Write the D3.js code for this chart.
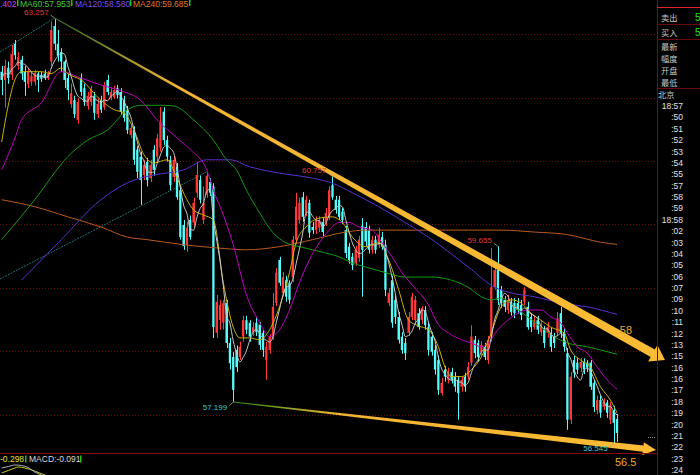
<!DOCTYPE html>
<html><head><meta charset="utf-8">
<script src="https://cdn.jsdelivr.net/npm/d3@7"></script>
<style>html,body{margin:0;padding:0;background:#000;overflow:hidden}</style>
</head><body><svg id="c" width="700" height="475"></svg>
<script>
// ---------- DATA ----------
const opens=[62.41,62.28,62.47,62.36,62.85,62.50,62.60,62.41,62.22,62.25,
62.25,62.38,62.36,62.38,62.31,62.57,63.13,62.85,62.72,62.57,
62.31,61.90,61.96,61.65,62.31,62.15,61.87,61.93,62.03,61.74,
61.96,61.85,62.28,61.99,62.01,62.15,62.09,61.96,61.81,61.41,
61.49,61.18,61.07,60.78,60.99,60.73,61.18,61.07,61.21,61.78,
61.33,61.02,60.75,60.91,60.54,59.99,59.68,60.07,60.03,60.50,
60.70,60.07,60.47,60.67,60.60,58.29,58.49,58.45,58.76,58.13,
57.91,58.02,57.91,58.23,58.49,58.45,58.29,58.45,58.42,58.29,
57.86,58.02,58.23,58.76,59.44,58.92,59.12,59.08,59.17,59.76,
60.07,60.43,60.18,60.34,59.96,59.91,59.95,60.04,60.03,60.12,
60.62,60.39,60.39,60.20,59.91,59.65,59.49,59.39,59.47,59.98,
59.96,59.91,59.60,59.76,59.68,59.80,59.68,58.76,59.12,58.81,
58.54,58.23,58.13,58.29,58.54,58.49,58.60,58.49,58.65,58.38,
58.23,58.02,57.86,57.34,57.71,57.55,57.67,57.60,57.55,57.44,
57.60,57.60,57.82,58.18,58.13,57.99,58.07,57.86,58.23,59.01,
59.28,58.97,58.81,58.65,58.78,58.76,58.76,58.73,58.78,58.70,
58.54,58.38,58.49,58.30,58.34,58.29,58.29,58.23,58.29,58.60,
58.29,57.97,56.92,57.86,57.82,57.74,57.83,57.82,57.82,57.50,
57.07,57.23,57.12,57.19,56.92,57.07,56.93];
const highs=[62.50,62.60,62.57,62.83,62.91,62.72,62.66,62.50,62.47,62.41,
62.44,62.41,62.41,62.44,62.42,63.20,63.257,63.07,62.78,62.60,
62.38,62.22,62.03,61.99,62.38,62.22,62.09,62.19,62.09,61.99,
62.03,62.25,62.36,62.15,62.19,62.20,62.15,62.03,61.87,61.59,
61.55,61.24,61.15,61.02,61.05,61.02,61.25,61.43,61.85,61.85,
61.40,61.08,61.08,60.97,60.60,60.07,60.04,60.14,60.42,60.99,
60.77,60.60,60.83,60.73,60.65,58.89,58.81,58.81,58.81,58.21,
57.99,58.09,58.15,58.56,58.56,58.49,58.46,58.54,58.46,58.34,
58.15,58.27,58.92,59.31,59.49,59.25,59.19,59.12,59.82,60.50,
60.42,60.51,60.45,60.39,60.04,60.13,60.13,60.10,60.26,60.60,
60.757,60.45,60.45,60.26,59.98,59.71,59.55,59.66,59.82,60.10,
60.04,59.98,59.82,59.82,59.95,59.88,59.76,59.00,59.19,58.87,
58.62,58.30,58.21,58.62,58.92,58.87,58.68,58.71,58.71,58.46,
58.30,58.10,57.93,57.58,57.77,57.74,57.74,57.67,57.61,57.61,
57.66,57.83,58.41,58.24,58.18,58.16,58.13,58.24,59.63,59.41,
59.655,59.03,58.87,58.89,58.84,58.84,58.84,58.81,59.01,58.78,
58.60,58.56,58.56,58.49,58.40,58.46,58.37,58.29,58.62,58.70,
58.37,58.05,57.67,57.93,57.89,57.89,57.89,57.86,57.86,57.55,
57.30,57.30,57.26,57.23,57.20,57.14,57.01];
const lows=[62.04,61.84,62.22,62.28,62.60,62.44,62.28,62.03,62.15,62.19,
62.19,62.09,62.25,62.28,62.28,62.50,62.75,62.57,62.41,62.15,
61.96,61.84,61.68,61.59,62.03,61.87,61.81,61.87,61.65,61.68,
61.76,61.81,62.04,61.96,61.98,61.99,61.73,61.62,61.43,61.36,
60.94,60.73,60.31,60.70,60.60,60.67,60.77,60.99,61.15,61.25,
60.99,60.54,60.67,60.39,59.76,59.60,59.57,59.76,59.95,60.42,
60.33,60.01,60.42,60.45,58.21,58.21,58.34,58.34,58.05,57.71,
57.199,57.67,57.86,58.15,58.27,58.15,58.24,58.24,58.02,57.91,
57.55,57.96,58.18,58.71,59.03,58.87,58.78,58.75,59.09,59.69,
60.01,60.04,60.13,59.79,59.85,59.85,59.88,59.82,59.98,60.07,
60.39,60.17,60.07,60.01,59.47,59.38,59.28,59.35,59.41,58.86,
59.66,59.54,59.54,59.54,59.63,59.60,58.87,58.71,58.37,58.43,
58.12,57.96,57.86,58.24,58.49,58.43,58.34,58.43,58.34,57.93,
57.93,57.63,57.31,57.30,57.52,57.49,57.49,57.36,56.92,57.36,
57.36,57.55,57.77,57.89,57.83,57.93,57.86,57.80,58.15,58.97,
58.73,58.68,58.62,58.59,58.56,58.52,58.59,58.49,58.73,58.34,
58.30,58.34,58.27,58.24,58.05,58.21,57.99,58.05,58.24,58.21,
57.99,56.76,56.85,57.58,57.64,57.67,57.64,57.67,57.39,57.04,
57.01,56.95,57.07,56.95,56.85,56.545,56.57];
const closes=[62.28,62.50,62.31,62.69,62.67,62.64,62.38,62.25,62.41,62.34,
62.39,62.28,62.30,62.31,62.38,63.07,62.85,62.66,62.57,62.28,
62.12,62.07,61.74,61.93,62.09,61.93,62.03,62.14,61.76,61.90,
61.81,62.20,62.09,62.09,62.12,62.04,61.78,61.68,61.49,61.52,
61.02,60.83,60.70,60.94,60.70,60.94,60.86,61.36,61.62,61.33,
61.07,60.62,61.02,60.43,59.80,59.66,59.95,59.80,60.34,60.78,
60.39,60.34,60.77,60.50,58.38,58.78,58.73,58.76,58.13,57.81,
57.39,57.75,58.07,58.49,58.34,58.23,58.38,58.30,58.10,58.02,
58.07,58.23,58.70,59.24,59.08,59.17,58.86,58.81,59.76,60.28,
60.34,60.12,60.39,59.87,59.91,60.07,60.06,59.88,60.18,60.54,
60.43,60.23,60.12,60.07,59.55,59.44,59.36,59.60,59.76,59.60,
59.73,59.60,59.76,59.60,59.84,59.65,58.97,58.92,58.45,58.54,
58.18,58.02,57.97,58.54,58.86,58.81,58.38,58.68,58.41,58.02,
57.99,57.71,57.39,57.50,57.60,57.66,57.55,57.44,57.34,57.55,
57.44,57.75,58.23,57.97,57.91,58.10,57.91,58.18,59.01,59.28,
58.81,58.76,58.70,58.81,58.62,58.60,58.65,58.57,58.97,58.38,
58.38,58.49,58.34,58.42,58.13,58.38,58.07,58.13,58.52,58.29,
58.07,56.92,57.60,57.66,57.71,57.83,57.71,57.74,57.44,57.12,
57.23,57.03,57.20,57.03,57.15,56.87,56.71];

// moving averages: [candle index, value]
const ma10=[[0,61.30],[2,61.88],[4,62.28],[6,62.41],[12,62.41],[15,62.38],[18,62.47],[20,62.38],[24,62.28],[30,61.96],[34,61.81],[37,61.76],[40,61.49],[43,61.10],[46,60.97],[50,61.02],[53,60.73],[56,60.39],[58,60.23],[61,60.15],[64,60.07],[67,59.08],[70,58.38],[72,58.21],[75,58.21],[78,58.18],[81,58.34],[84,58.70],[87,59.24],[89,59.71],[92,59.96],[96,60.10],[100,60.12],[103,60.03],[106,59.80],[110,59.65],[114,59.71],[117,59.44],[120,58.97],[123,58.49],[126,58.40],[129,58.34],[132,58.07],[134,57.75],[136,57.60],[139,57.60],[142,57.71],[145,57.91],[148,58.29],[151,58.70],[154,58.81],[157,58.76],[160,58.60],[163,58.49],[166,58.38],[170,58.29],[172,58.02],[175,57.86],[178,57.75],[181,57.44],[184,57.23],[186,57.03]];
const ma20=[[0,60.86],[4,61.36],[6,61.65],[12,61.92],[18,62.41],[24,62.31],[30,62.20],[36,62.11],[42,61.96],[47,61.65],[52,61.41],[57,61.18],[62,60.86],[64,60.54],[67,60.15],[70,59.68],[74,58.89],[78,58.45],[81,58.23],[84,58.34],[87,58.65],[90,59.08],[93,59.44],[96,59.71],[99,59.91],[102,60.03],[105,60.03],[108,59.96],[112,59.91],[115,59.71],[118,59.49],[121,59.24],[124,59.05],[129,58.73],[132,58.42],[135,58.29],[139,58.18],[142,58.13],[145,58.07],[147,58.13],[150,58.34],[153,58.49],[156,58.60],[159,58.65],[163,58.65],[166,58.54],[169,58.45],[171,58.29],[174,58.07],[177,57.97],[180,57.75],[183,57.55],[186,57.40]];
const ma60=[[0,59.76],[10,60.39],[20,61.07],[26,61.33],[32,61.49],[38,61.81],[42,61.88],[48,61.88],[52,61.87],[58,61.65],[64,61.33],[68,61.02],[71,60.86],[74,60.54],[78,60.18],[82,59.87],[86,59.71],[90,59.65],[94,59.60],[98,59.55],[102,59.49],[106,59.39],[110,59.33],[116,59.24],[122,59.17],[130,59.17],[136,59.12],[141,59.01],[145,58.86],[148,58.81],[151,58.84],[155,58.70],[159,58.54],[163,58.38],[167,58.23],[171,58.13],[177,58.07],[181,58.02],[186,57.953]];
const ma120=[[6,59.12],[18,59.76],[30,60.39],[40,60.70],[46,60.78],[55,60.86],[62,61.02],[69,61.02],[75,60.91],[84,60.81],[94,60.73],[100,60.65],[106,60.50],[114,60.28],[122,60.03],[129,59.80],[141,59.33],[149,59.01],[154,58.92],[161,58.86],[169,58.76],[177,58.70],[186,58.58]];
const ma240=[[0,60.39],[10,60.28],[20,60.12],[30,59.96],[38,59.80],[44,59.76],[55,59.68],[65,59.63],[74,59.60],[84,59.65],[94,59.76],[104,59.88],[110,59.91],[119,59.91],[130,59.91],[141,59.91],[151,59.91],[161,59.88],[171,59.84],[181,59.72],[186,59.685]];

const gridPrices=[57,58,59,60,61,62,63];
// marked extremes: [candle index, price, label, kind]
const extremes=[[16,63.257,"63.257","hi"],[100,60.757,"60.757","hi"],[150,59.655,"59.655","hi"],[70,57.199,"57.199","lo"],[185,56.545,"56.545","lo"]];
// trend arrows: start [index, price] -> tip [index, price]
const upperTrend=[[16,63.257],[200.5,57.86]];
const lowerTrend=[[70,57.199],[197.8,56.44]];
const thinLines=[[[-0.5,62.72],[16,63.257]],[[-0.5,59.14],[62,60.83]]];
// target labels: [text, price, candle-index position]
const targetLabels=[["58",58.34,188.7],["56.5",56.25,188.6]];

const legendItems=[[".402","#d040e0",0],["MA60:57.953","#40c840",20],["MA120:58.580","#7a50f0",75],["MA240:59.685","#e07828",133]];
const legendBars=[17,71,130,189];
const macdDif=[[0,0.14],[2,0.17],[4,0.20],[6,0.19],[8,0.15],[10,0.06],[12,0.0],[14,-0.06]];
const macdDea=[[0,0.04],[2,0.09],[4,0.14],[5,0.16],[7,0.14],[10,0.08],[13,0.0],[15,-0.04]];

const sideLabels=[["卖出",17],["买入",32],["最新",46],["幅度",58],["开盘",70],["最低",82]];
const timeLabels=["18:57",":50",":51",":52",":53",":54",":55",":57",":58",":59","18:58",":02",":03",":04",":05",":06",":07",":09",":10",":11",":12",":13",":15",":16",":16",":17",":18",":19",":20",":21",":22",":23",":24"];

// ---------- DRAW ----------
const W=700,H=475,PW=657,PH=453;
const svg=d3.select('#c');
svg.append('rect').attr('width',W).attr('height',H).attr('fill','#000');
const defs=svg.append('defs');
defs.append('clipPath').attr('id','pane').append('rect').attr('x',0).attr('y',0).attr('width',PW).attr('height',PH);
defs.append('clipPath').attr('id','mpane').append('rect').attr('x',0).attr('y',PH+1).attr('width',PW).attr('height',H-PH-1);

const N=closes.length;
const x=d3.scaleLinear().domain([0,N-1]).range([1.65,617]);
const y=d3.scaleLinear().domain([56.41,63.541]).range([452,0]);
const bw=2.3;

// grid
const g=svg.append('g');
g.selectAll('line.grid').data(gridPrices).enter().append('line')
 .attr('x1',0).attr('x2',PW).attr('y1',d=>Math.round(y(d))+0.5).attr('y2',d=>Math.round(y(d))+0.5)
 .attr('stroke','#6a0a0a').attr('stroke-dasharray','1,2');

const main=svg.append('g').attr('clip-path','url(#pane)');

// thin teal lines
main.selectAll('line.teal').data(thinLines).enter().append('line')
 .attr('x1',d=>x(d[0][0])).attr('y1',d=>y(d[0][1])).attr('x2',d=>x(d[1][0])).attr('y2',d=>y(d[1][1]))
 .attr('stroke','#1d7272').attr('stroke-width',1).attr('stroke-dasharray','2,1');

// candles
const idx=d3.range(N);
const up=i=>closes[i]>=opens[i];
const col=i=>up(i)?'#ff3838':'#54fcfc';
main.selectAll('line.wick').data(idx).enter().append('line')
 .attr('x1',i=>Math.round(x(i))+0.5).attr('x2',i=>Math.round(x(i))+0.5)
 .attr('y1',i=>y(Math.max(highs[i],opens[i],closes[i])))
 .attr('y2',i=>y(Math.min(lows[i],opens[i],closes[i])))
 .attr('stroke',col).attr('stroke-width',1);
main.selectAll('rect.body').data(idx).enter().append('rect')
 .attr('x',i=>x(i)-bw/2).attr('width',bw)
 .attr('y',i=>y(Math.max(opens[i],closes[i])))
 .attr('height',i=>Math.max(1,Math.abs(y(opens[i])-y(closes[i]))))
 .attr('fill',col);

// MA lines
const lineP=d3.line().x(d=>x(d[0])).y(d=>y(d[1])).curve(d3.curveMonotoneX);
const ma5=idx.map(i=>{const s=closes.slice(Math.max(0,i-4),i+1);return [i,d3.mean(s)];});
const maDefs=[[ma240,'#b85a20'],[ma120,'#5a30d0'],[ma60,'#139a13'],[ma20,'#c000c0'],[ma10,'#c8b400'],[ma5,'#c8c8c8']];
maDefs.forEach(([d,c])=>{
  main.append('path').datum(d).attr('d',lineP).attr('fill','none').attr('stroke',c).attr('stroke-width',1);
});

// tapered arrows
function arrow(t,w0,w1,hl,hh,id,c0,c1,cStop){
  const p0=[x(t[0][0]),y(t[0][1])], p1=[x(t[1][0]),y(t[1][1])];
  const dx=p1[0]-p0[0],dy=p1[1]-p0[1],L=Math.hypot(dx,dy),ux=dx/L,uy=dy/L,nx=-uy,ny=ux;
  const ps=[p1[0]-ux*hl,p1[1]-uy*hl];
  const pts=[[p0[0]+nx*w0/2,p0[1]+ny*w0/2],[ps[0]+nx*w1/2,ps[1]+ny*w1/2],[ps[0]+nx*hh,ps[1]+ny*hh],p1,
    [ps[0]-nx*hh,ps[1]-ny*hh],[ps[0]-nx*w1/2,ps[1]-ny*w1/2],[p0[0]-nx*w0/2,p0[1]-ny*w0/2]];
  const gr=defs.append('linearGradient').attr('id',id).attr('gradientUnits','userSpaceOnUse')
    .attr('x1',p0[0]).attr('y1',p0[1]).attr('x2',p1[0]).attr('y2',p1[1]);
  gr.append('stop').attr('offset',0).attr('stop-color',c0);
  gr.append('stop').attr('offset',cStop).attr('stop-color',c1);
  gr.append('stop').attr('offset',1).attr('stop-color','#fbbb34');
  svg.append('path').attr('d','M'+pts.map(p=>p.join(',')).join('L')+'Z').attr('fill','url(#'+id+')');
}
arrow(upperTrend,1,8.5,14,9.5,'gu','#2e6a1e','#f2b433',0.2);
arrow(lowerTrend,0.8,6.5,13,6.5,'gl','#2c8a1c','#f2b433',0.25);

// extremes labels
extremes.forEach(([i,p,t,k])=>{
  const px=x(i),py=y(p);
  const lx=px-6, ly=k==='hi'?py-3:py+4;
  svg.append('line').attr('x1',px).attr('y1',py).attr('x2',lx+2).attr('y2',ly).attr('stroke','#a0a0a0').attr('stroke-width',0.8);
  svg.append('text').attr('x',lx).attr('y',k==='hi'?ly:ly+4).attr('text-anchor','end')
    .attr('font-family','Liberation Sans, Arial, sans-serif').attr('font-size',8)
    .attr('fill',k==='hi'?'#e03838':'#3cc8d0').text(t);
});

// target labels
targetLabels.forEach(([t,p,i])=>{
  svg.append('text').attr('x',x(i)).attr('y',y(p)+4).attr('text-anchor','middle')
   .attr('font-family','Liberation Sans, Arial, sans-serif').attr('font-size',11).attr('fill','#f0a830').text(t);
});

// small dotted mark near lower arrow
svg.append('line').attr('x1',648).attr('x2',656).attr('y1',437.5).attr('y2',437.5).attr('stroke','#909090').attr('stroke-dasharray','1,1');

// legend
legendItems.forEach(([t,c,lx])=>{
  svg.append('text').attr('x',lx).attr('y',6.5).attr('font-family','Liberation Sans, Arial, sans-serif')
   .attr('font-size',8.5).attr('fill',c).text(t);
});
svg.selectAll('rect.lb').data(legendBars).enter().append('rect').attr('x',d=>d).attr('y',0).attr('width',1.5).attr('height',6).attr('fill','#20c020');

// pane separators
svg.append('line').attr('x1',0).attr('x2',PW).attr('y1',PH+0.5).attr('y2',PH+0.5).attr('stroke','#8a0a0a');
svg.append('line').attr('x1',PW+0.5).attr('x2',PW+0.5).attr('y1',0).attr('y2',H).attr('stroke','#7a0a0a');

// MACD pane
const my=d3.scaleLinear().domain([0,0.2]).range([475,465]);
const mp=svg.append('g').attr('clip-path','url(#mpane)');
const mline=d3.line().x(d=>x(d[0])).y(d=>my(d[1])).curve(d3.curveMonotoneX);
mp.append('path').datum(macdDea).attr('d',mline).attr('fill','none').attr('stroke','#c8c820');
mp.append('path').datum(macdDif).attr('d',mline).attr('fill','none').attr('stroke','#b0b0b0');
svg.append('rect').attr('x',0).attr('y',455).attr('width',82).attr('height',9).attr('fill','#000');
svg.append('text').attr('x',0).attr('y',462).attr('font-family','Liberation Sans, Arial, sans-serif').attr('font-size',8.5).attr('fill','#e0e030').text('-0.298');
svg.append('rect').attr('x',25).attr('y',455.5).attr('width',1.5).attr('height',7).attr('fill','#20c020');
svg.append('text').attr('x',29).attr('y',462).attr('font-family','Liberation Sans, Arial, sans-serif').attr('font-size',8.5).attr('fill','#d8d8d8').text('MACD:-0.091');
svg.append('rect').attr('x',80).attr('y',455.5).attr('width',1.5).attr('height',7).attr('fill','#20c020');

// right panel
svg.append('line').attr('x1',PW).attr('x2',W).attr('y1',7.5).attr('y2',7.5).attr('stroke','#e02020');
[24,39,88].forEach(v=>svg.append('line').attr('x1',PW).attr('x2',W).attr('y1',v+0.5).attr('y2',v+0.5).attr('stroke','#6a0a0a'));
sideLabels.forEach(([t,yy])=>{
  svg.append('text').attr('x',661).attr('y',yy+3.5).attr('font-family','Noto Sans CJK SC, sans-serif').attr('font-size',8.2).attr('fill','#c8c8c8').text(t);
});
[[17],[32]].forEach(([yy])=>svg.append('text').attr('x',695).attr('y',yy+4).attr('font-family','Liberation Sans, Arial').attr('font-size',10).attr('fill','#20e020').text('5'));
svg.append('text').attr('x',658).attr('y',97.5).attr('font-family','Noto Sans CJK SC, sans-serif').attr('font-size',8.2).attr('fill','#c8c8c8').text('北京');
const ty=d3.scalePoint().domain(d3.range(timeLabels.length)).range([106,470]);
svg.selectAll('text.tm').data(timeLabels).enter().append('text')
 .attr('x',683).attr('y',(d,i)=>ty(i)+3).attr('text-anchor','end')
 .attr('font-family','Liberation Sans, Arial, sans-serif').attr('font-size',8.5).attr('fill','#e0e0e0').text(d=>d);
</script></body></html>
